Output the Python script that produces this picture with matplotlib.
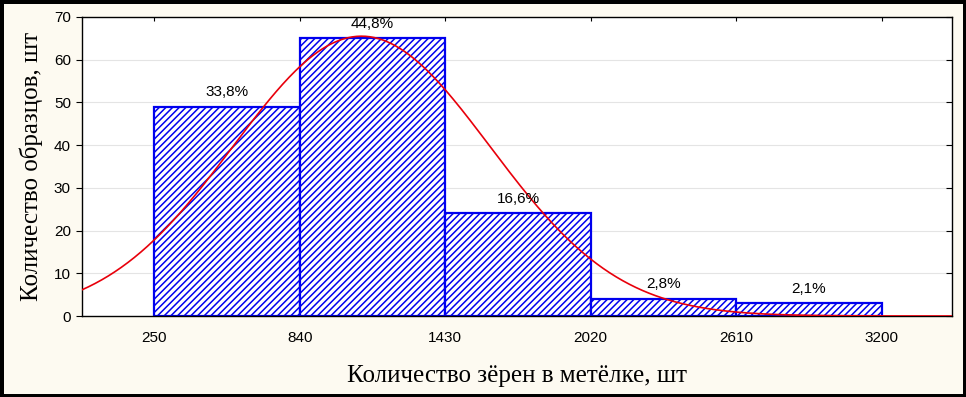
import numpy as np
import matplotlib
matplotlib.use('Agg')
import matplotlib.pyplot as plt

# histogram data (bin edges, counts, percent labels)
bin_edges = [250, 840, 1430, 2020, 2610, 3200]
counts = [49, 65, 24, 4, 3]
pct_labels = ['33,8%', '44,8%', '16,6%', '2,8%', '2,1%']
tick_labels = ['250', '840', '1430', '2020', '2610', '3200']

# fitted normal curve parameters
fit_mean = 1090
fit_sd = 521
n_total = 145

plt.rcParams['hatch.linewidth'] = 1.1
plt.rcParams['hatch.color'] = '#0000ee'

fig = plt.figure(figsize=(9.66, 3.97), dpi=100)
fig.patch.set_facecolor('#fdfaf1')
fig.patch.set_edgecolor('black')
fig.patch.set_linewidth(5)

ax = fig.add_axes([82/966, 1 - 316/397, (952-82)/966, (316-17)/397])
ax.set_facecolor('white')

# grid
for yv in range(10, 70, 10):
    ax.axhline(yv, color='#e4e4e4', lw=0.8, zorder=0)

widths = np.diff(bin_edges)
ax.bar(bin_edges[:-1], counts, width=widths, align='edge',
       facecolor='white', edgecolor='#0000ee', hatch='/////',
       linewidth=1.6, zorder=2)

# normal curve
bw = widths[0]
xs = np.linspace(-44, 3486, 400)
ys = n_total * bw / (fit_sd * np.sqrt(2*np.pi)) * np.exp(-0.5*((xs - fit_mean)/fit_sd)**2)
ax.plot(xs, ys, color='#e8000b', lw=1.2, zorder=3)

# percent labels
for i in range(len(counts)):
    cx = (bin_edges[i] + bin_edges[i+1]) / 2
    ax.annotate(pct_labels[i], (cx, counts[i]), xytext=(0, 5.5),
                textcoords='offset points', ha='center', va='bottom',
                fontsize=11, family='Liberation Sans', zorder=4)

ax.set_xlim(-44, 3486)
ax.set_ylim(0, 70)
ax.set_xticks(bin_edges)
ax.set_xticklabels(tick_labels, family='Liberation Sans', fontsize=11)
ax.set_yticks(range(0, 80, 10))
ax.set_yticklabels([str(v) for v in range(0, 80, 10)], family='Liberation Sans', fontsize=11)
ax.tick_params(axis='x', bottom=False, top=True, direction='in', length=3, pad=11)
ax.tick_params(axis='y', left=True, right=True, direction='out', length=4, pad=4)
for t in ax.yaxis.get_ticklines()[1::2]:
    t.set_marker(0)  # right ticks point inward
for sp in ax.spines.values():
    sp.set_linewidth(1.0)

ax.set_xlabel('Количество зёрен в метёлке, шт', family='Liberation Serif',
              fontsize=18, labelpad=14)
ax.set_ylabel('Количество образцов, шт', family='Liberation Serif',
              fontsize=18, labelpad=8)

fig.savefig('out.png', dpi=100)
